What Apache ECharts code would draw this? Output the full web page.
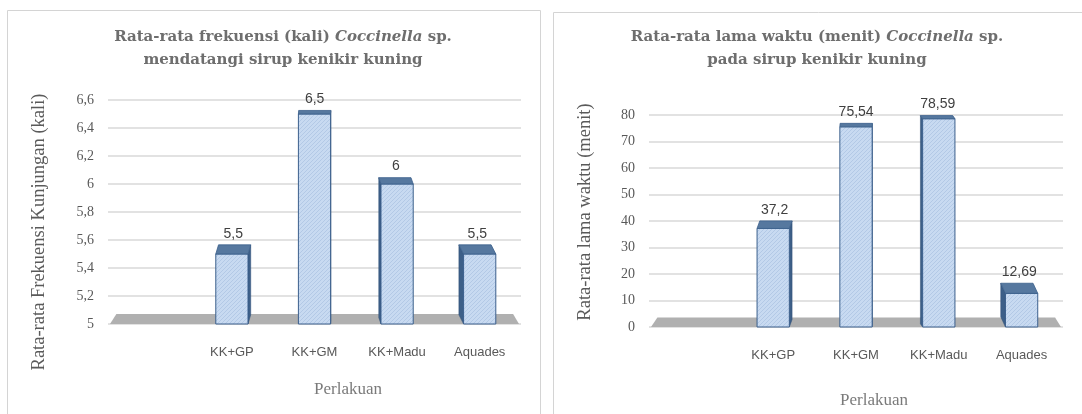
<!DOCTYPE html>
<html>
<head>
<meta charset="utf-8">
<script src="https://cdn.jsdelivr.net/npm/echarts@6/dist/echarts.min.js"></script>
<style>
html,body{margin:0;padding:0;background:#fff;}
#chart{width:1082px;height:414px;}
</style>
</head>
<body>
<div id="chart"></div>
<script>
// ---- data ----
const categories = ['', 'KK+GP', 'KK+GM', 'KK+Madu', 'Aquades'];
const freqValues = [null, 5.5, 6.5, 6, 5.5];
const timeValues = [null, 37.2, 75.54, 78.59, 12.69];
const freqAxis = { min: 5, max: 6.6, interval: 0.2 };
const timeAxis = { min: 0, max: 80, interval: 10 };
const freqTitle = ['Rata-rata frekuensi (kali) ', 'Coccinella', ' sp.', 'mendatangi sirup kenikir kuning'];
const timeTitle = ['Rata-rata lama waktu (menit) ', 'Coccinella', ' sp.', 'pada sirup kenikir kuning'];
const freqYName = 'Rata-rata Frekuensi Kunjungan (kali)';
const timeYName = 'Rata-rata lama waktu (menit)';
const xName = 'Perlakuan';

// ---- styling helpers ----
function makePattern() {
  const c = document.createElement('canvas');
  c.width = 4; c.height = 4;
  const g = c.getContext('2d');
  g.fillStyle = '#c8daf1'; g.fillRect(0, 0, 4, 4);
  g.fillStyle = '#b3c9e6';
  g.fillRect(0, 0, 1, 1); g.fillRect(2, 2, 1, 1);
  g.fillRect(1, 3, 1, 1); g.fillRect(3, 1, 1, 1);
  return c;
}
const pattern = { image: makePattern(), repeat: 'repeat' };
const fmt = v => String(Math.round(v * 100) / 100).replace('.', ',');
const axisFmt = v => String(Math.round(v * 10) / 10).replace('.', ',');

function depthAt(y, cs) { return 3 + (y - cs.y) * 0.04; }
function shiftAt(x, cs) { return (cs.x + cs.width * 0.52 - x) * 0.03; }

function barRenderer(yMin) {
  return function (params, api) {
    const v = api.value(1);
    if (v == null || isNaN(v)) return;
    const cs = params.coordSys;
    const idx = api.value(0);
    const top = api.coord([idx, v]);
    const base = api.coord([idx, yMin]);
    const band = api.size([1, 0])[0];
    const w = band * 0.39;
    const x0 = top[0] - w / 2, x1 = top[0] + w / 2;
    const yt = top[1], yb = base[1];
    const dx = shiftAt(top[0], cs);
    const dy = depthAt(yt, cs);
    const children = [];
    if (dx < 0) {
      children.push({ type: 'polygon', shape: { points: [[x0, yt], [x0, yb], [x0 + dx, yb - dy], [x0 + dx, yt - dy]] },
        style: { fill: '#3d5f88', stroke: '#2f4f77', lineWidth: 0.5 } });
    } else {
      children.push({ type: 'polygon', shape: { points: [[x1, yt], [x1, yb], [x1 + dx, yb - dy], [x1 + dx, yt - dy]] },
        style: { fill: '#3d5f88', stroke: '#2f4f77', lineWidth: 0.5 } });
    }
    children.push({ type: 'rect', shape: { x: x0, y: yt, width: w, height: yb - yt },
      style: { fill: pattern, stroke: '#3b5f8c', lineWidth: 1 } });
    children.push({ type: 'polygon', shape: { points: [[x0, yt], [x1, yt], [x1 + dx, yt - dy], [x0 + dx, yt - dy]] },
      style: { fill: '#56789f', stroke: '#3b5f8c', lineWidth: 0.8 } });
    children.push({ type: 'text', style: { text: fmt(v), x: top[0] + dx / 2, y: yt - dy - 4,
      align: 'center', verticalAlign: 'bottom', fill: '#404040',
      font: '14px "Liberation Sans Narrow", "Liberation Sans", sans-serif' } });
    return { type: 'group', children };
  };
}

function floorRenderer(yMin) {
  return function (params, api) {
    const cs = params.coordSys;
    const yf = api.coord([0, yMin])[1];
    const dy = depthAt(yf, cs) - 2;
    const xl = cs.x + 2, xr = cs.x + cs.width - 2;
    return { type: 'polygon', shape: { points: [[xl, yf], [xr, yf], [xr + shiftAt(xr, cs), yf - dy], [xl + shiftAt(xl, cs), yf - dy]] },
      style: { fill: '#b0b0b0' } };
  };
}

const titleRich = {
  a: { fontFamily: 'DejaVu Serif', fontWeight: 'bold', fontSize: 15, color: '#6e6e6e', lineHeight: 23 },
  i: { fontFamily: 'DejaVu Serif', fontWeight: 'bold', fontStyle: 'italic', fontSize: 15, color: '#6e6e6e', lineHeight: 23 }
};
function titleText(t) { return '{a|' + t[0] + '}{i|' + t[1] + '}{a|' + t[2] + '}\n{a|' + t[3] + '}'; }

const yLabelStyle = { fontFamily: 'Liberation Serif', fontSize: 14, color: '#595959', margin: 14 };
const xLabelStyle = { fontFamily: '"Liberation Sans Narrow", "Liberation Sans"', fontSize: 13, color: '#595959', margin: 22 };

function yAxisDef(gi, a) {
  return { type: 'value', gridIndex: gi, min: a.min, max: a.max, interval: a.interval,
    axisLine: { show: false }, axisTick: { show: false },
    axisLabel: Object.assign({ formatter: axisFmt }, yLabelStyle),
    splitLine: { lineStyle: { color: '#d9d9d9', width: 1.5 } } };
}
function xAxisDef(gi) {
  return { type: 'category', gridIndex: gi, data: categories, boundaryGap: true,
    axisLine: { show: false }, axisTick: { show: false }, axisLabel: xLabelStyle };
}
function seriesData(vals) { return vals.map((v, i) => [i, v]); }

const chart = echarts.init(document.getElementById('chart'), null, { renderer: 'canvas' });
chart.setOption({
  backgroundColor: '#ffffff',
  animation: false,
  title: [
    { text: titleText(freqTitle), left: 278, top: 21, textAlign: 'center', textStyle: { rich: titleRich } },
    { text: titleText(timeTitle), left: 812, top: 21, textAlign: 'center', textStyle: { rich: titleRich } }
  ],
  grid: [
    { left: 108, top: 100, width: 413, height: 224 },
    { left: 649, top: 115, width: 414, height: 212 }
  ],
  xAxis: [xAxisDef(0), xAxisDef(1)],
  yAxis: [yAxisDef(0, freqAxis), yAxisDef(1, timeAxis)],
  graphic: [
    { type: 'rect', shape: { x: 7.5, y: 10.5, width: 533, height: 430 }, style: { fill: 'none', stroke: '#d4d4d4', lineWidth: 1 }, silent: true },
    { type: 'rect', shape: { x: 553.5, y: 12.5, width: 540, height: 430 }, style: { fill: 'none', stroke: '#d4d4d4', lineWidth: 1 }, silent: true },
    { type: 'text', x: 39, y: 232, rotation: Math.PI / 2, style: { text: freqYName, align: 'center', verticalAlign: 'middle', fill: '#5a5a5a', font: '18.5px "Liberation Serif", serif' } },
    { type: 'text', x: 585, y: 212, rotation: Math.PI / 2, style: { text: timeYName, align: 'center', verticalAlign: 'middle', fill: '#5a5a5a', font: '18.5px "Liberation Serif", serif' } },
    { type: 'text', x: 348, y: 390, style: { text: xName, align: 'center', verticalAlign: 'middle', fill: '#7a7a7a', font: '17px "Liberation Serif", serif' } },
    { type: 'text', x: 874, y: 401, style: { text: xName, align: 'center', verticalAlign: 'middle', fill: '#7a7a7a', font: '17px "Liberation Serif", serif' } }
  ],
  series: [
    { type: 'custom', xAxisIndex: 0, yAxisIndex: 0, z: 1, silent: true, renderItem: floorRenderer(freqAxis.min), data: [[0, freqAxis.min]] },
    { type: 'custom', xAxisIndex: 1, yAxisIndex: 1, z: 1, silent: true, renderItem: floorRenderer(timeAxis.min), data: [[0, timeAxis.min]] },
    { type: 'custom', xAxisIndex: 0, yAxisIndex: 0, z: 3, renderItem: barRenderer(freqAxis.min), data: seriesData(freqValues), encode: { x: 0, y: 1 } },
    { type: 'custom', xAxisIndex: 1, yAxisIndex: 1, z: 3, renderItem: barRenderer(timeAxis.min), data: seriesData(timeValues), encode: { x: 0, y: 1 } }
  ]
});
</script>
</body>
</html>
